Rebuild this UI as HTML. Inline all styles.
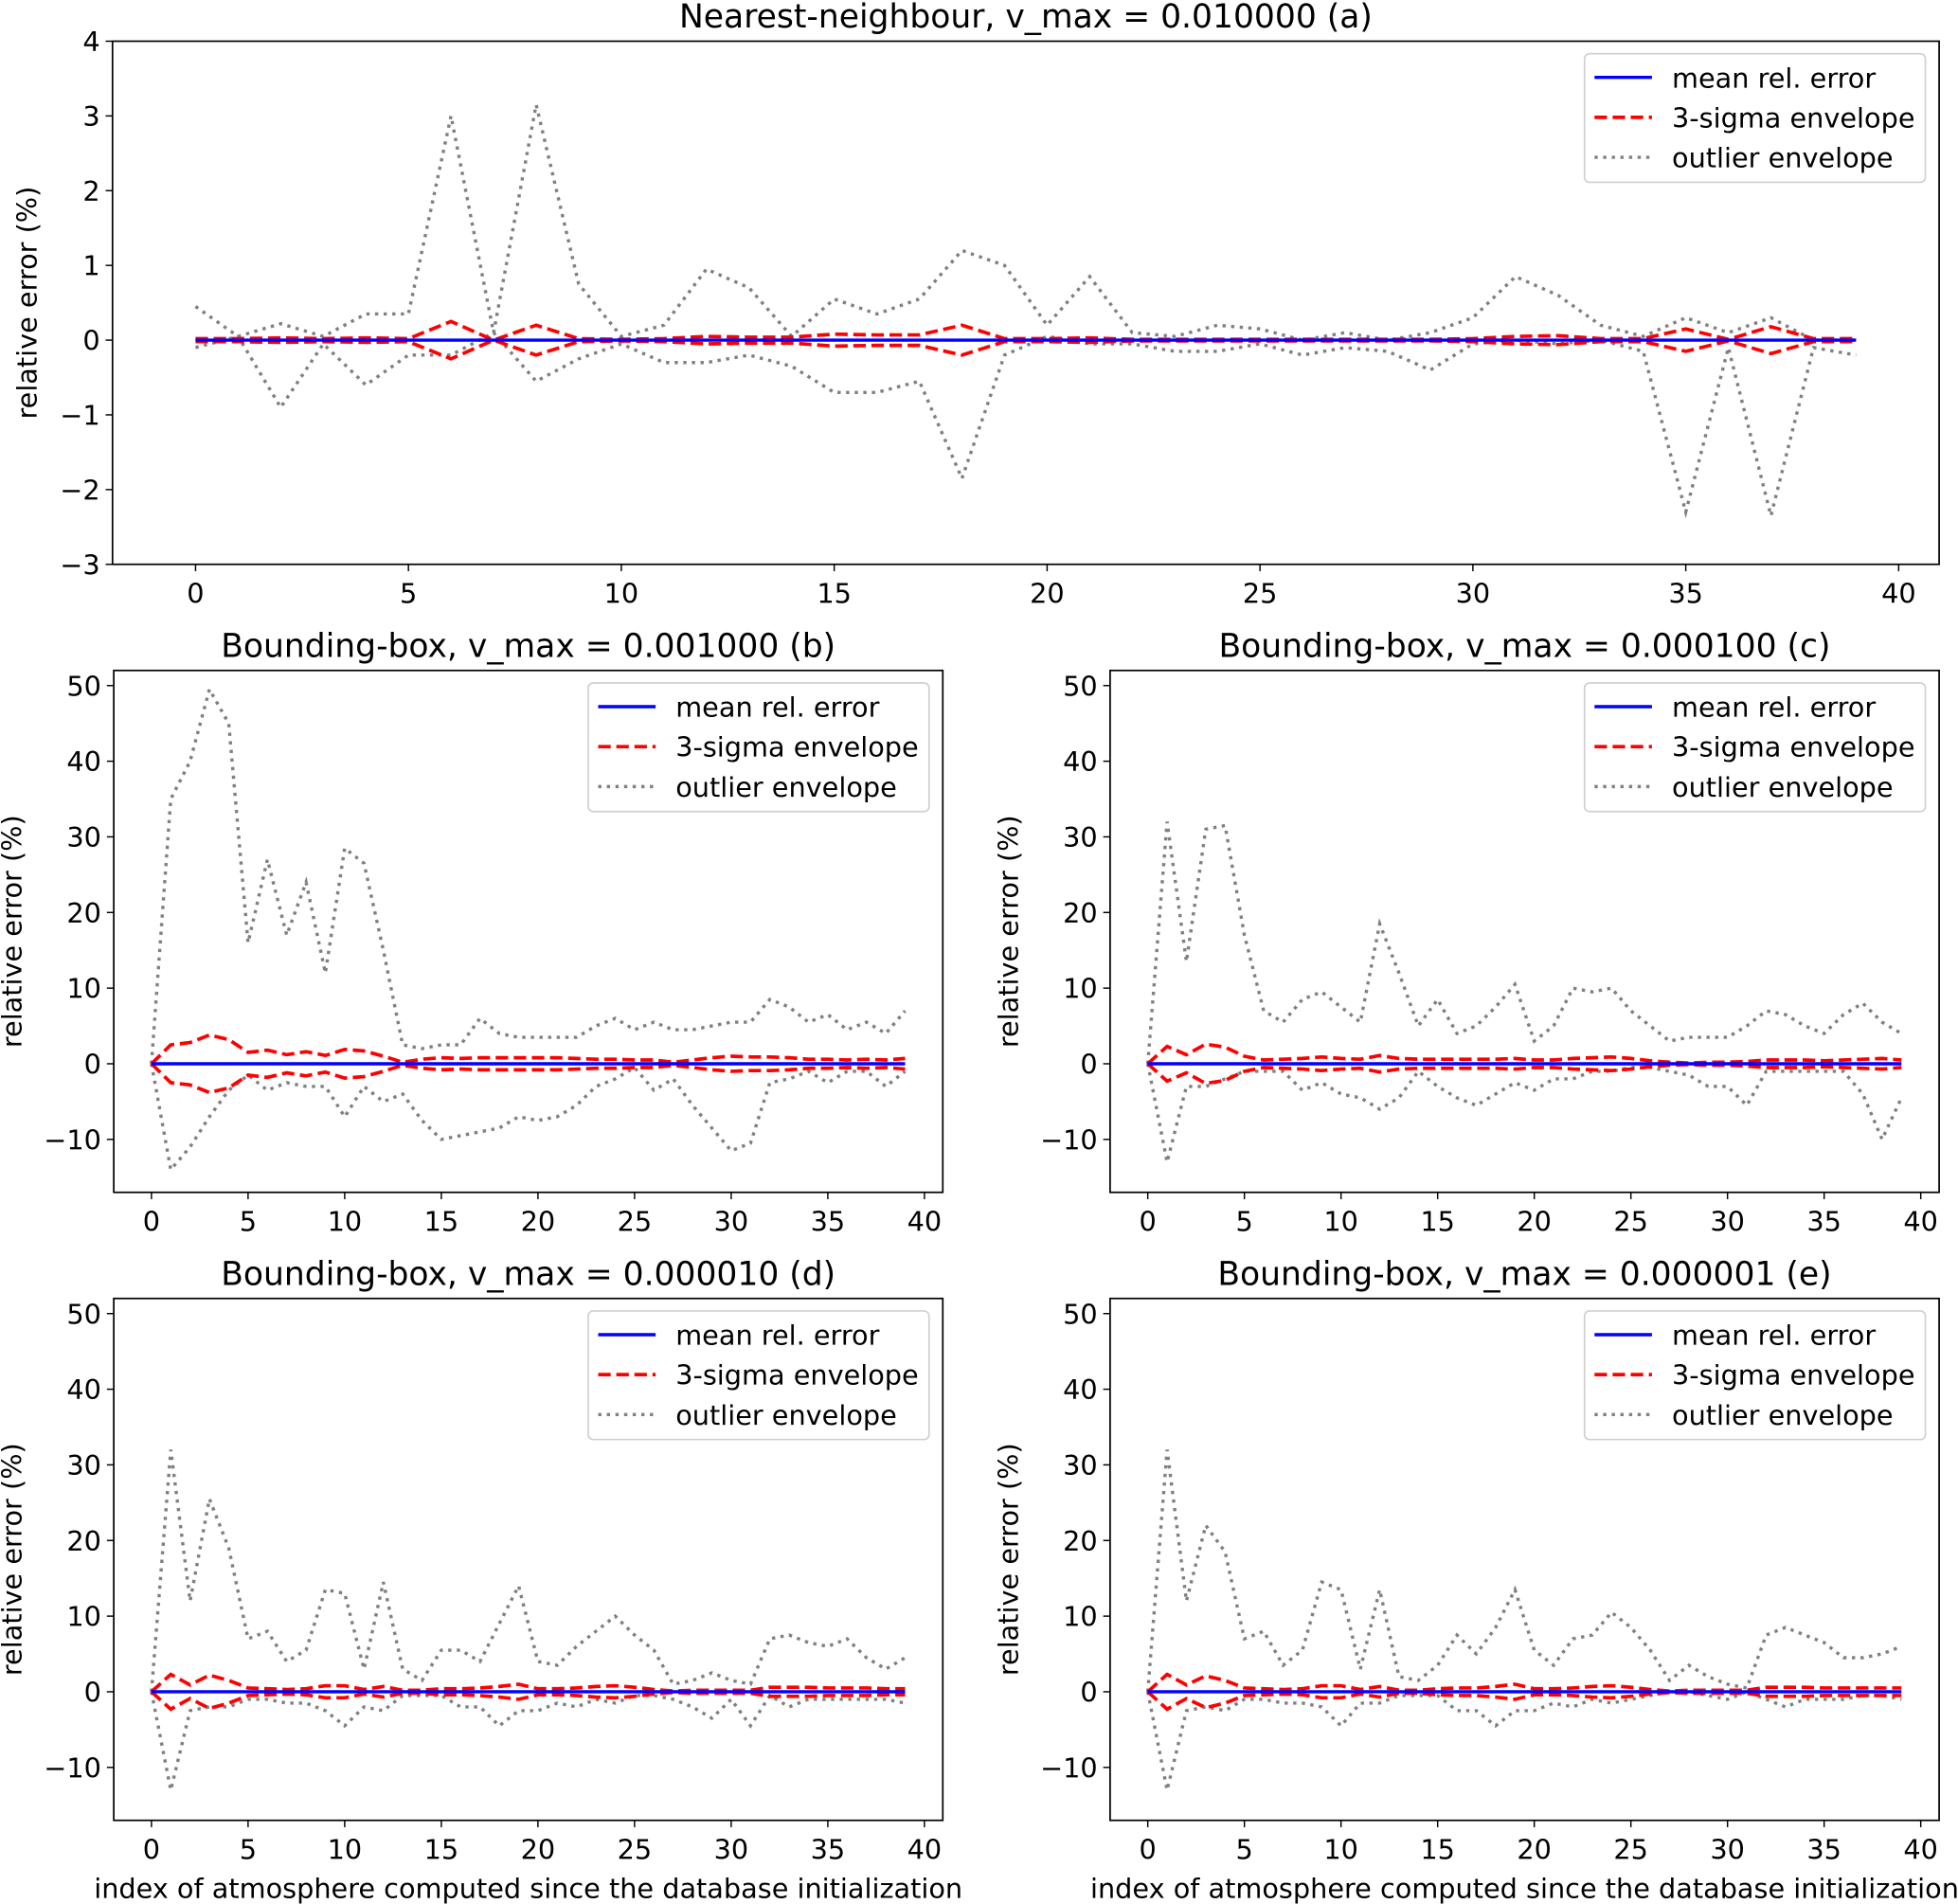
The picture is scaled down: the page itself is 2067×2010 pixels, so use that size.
<!DOCTYPE html>
<html><head><meta charset="utf-8"><style>
html,body{margin:0;padding:0;background:#fff}
svg{display:block}
text{font-family:"DejaVu Sans","Liberation Sans",sans-serif;fill:#000}
</style></head>
<body>
<svg id="fig" xmlns="http://www.w3.org/2000/svg" width="2067" height="2010" viewBox="0 0 1568 1525"></svg>
<script>
const xIndex = Array.from({length:40},(_,i)=>i);
const xTicks = [0,5,10,15,20,25,30,35,40];
const yTicksA = [-3,-2,-1,0,1,2,3,4];
const yTicksB = [-10,0,10,20,30,40,50];

const upA = [0.45,0.05,0.22,0.05,0.35,0.35,3.0,0.1,3.15,0.75,0.05,0.2,0.95,0.7,0.05,0.55,0.35,0.55,1.2,1.0,0.2,0.85,0.1,0.05,0.2,0.15,0.0,0.1,0.0,0.1,0.3,0.85,0.6,0.2,0.05,0.3,0.1,0.3,0.0,0.0];
const loA = [-0.1,0.05,-0.9,-0.05,-0.6,-0.2,-0.2,0.1,-0.55,-0.25,-0.05,-0.3,-0.3,-0.2,-0.35,-0.7,-0.7,-0.55,-1.85,-0.2,0.05,-0.05,-0.05,-0.15,-0.15,-0.05,-0.2,-0.1,-0.15,-0.4,-0.05,0.0,-0.05,0.0,-0.15,-2.3,-0.1,-2.35,-0.1,-0.2];
const sgA = [0.02,0.02,0.03,0.02,0.03,0.02,0.25,0,0.2,0.02,0.01,0.02,0.05,0.04,0.04,0.08,0.07,0.07,0.2,0.02,0.02,0.03,0.01,0.01,0.01,0.01,0.01,0.01,0.01,0.01,0.02,0.05,0.06,0.02,0.02,0.15,0.01,0.18,0.02,0.02];

const upB = [0,35,40,49.5,45,16,27,17,24,12,28.5,26.5,15,2.5,2,2.5,2.5,6,4,3.5,3.5,3.5,3.5,5,6,4.5,5.5,4.5,4.5,5,5.5,5.5,8.5,7.5,5.5,6.5,4.5,5.5,4,7];
const loB = [0,-14,-11,-7,-3.5,-1.5,-3.5,-2.5,-3,-3,-7,-3,-5,-4,-7.5,-10,-9.5,-9,-8.5,-7,-7.5,-7,-5.5,-3,-2,-0.5,-3.5,-2,-5.5,-8.5,-11.5,-10.5,-2.5,-2,-1,-2.5,-1,-1,-3,-1];
const sgB = [0,2.5,2.8,3.8,3.2,1.5,1.8,1.2,1.6,1.1,1.9,1.7,1,0.2,0.6,0.8,0.7,0.8,0.8,0.8,0.8,0.8,0.7,0.6,0.6,0.5,0.5,0.2,0.5,0.8,1,0.9,0.9,0.8,0.6,0.6,0.5,0.6,0.5,0.7];

const upC = [0,32,13.5,31,31.5,17,7,5.5,8.5,9.5,7.5,5.5,18.5,12,5,8.5,4,5,7.5,10.5,3,5,10,9.5,10,7,5,3,3.5,3.5,3.5,5,7,6.5,5,4,6.5,8,5.5,4];
const loC = [0,-13,-3,-3,-2,-1,-1,-1,-3.5,-2.5,-4,-4.5,-6,-4.5,-1,-3,-4.5,-5.5,-4,-2.5,-3.5,-2,-2,-1,-1,-0.5,-0.5,-1,-1.5,-3,-3,-5.5,-1,-1,-1,-1,-1,-4,-10,-4.5];
const sgC = [0,2.3,1.2,2.6,2.2,1,0.5,0.6,0.7,0.9,0.7,0.6,1.1,0.7,0.6,0.6,0.6,0.6,0.6,0.7,0.5,0.5,0.7,0.8,0.9,0.7,0.4,0.2,0.1,0.2,0.2,0.3,0.5,0.5,0.5,0.4,0.5,0.6,0.7,0.5];

const upD = [0,32,12,25.5,19,7,8,4,5.5,13.5,13,3,14.5,3,1.5,5.5,5.5,4,9,14,4,3.5,6,8,10,7.5,5.5,1,1.5,2.5,1.5,1,7,7.5,6.5,6,7,4.5,3,4.5];
const loD = [0,-13,-2.5,-2,-2,-1,-1,-1.5,-1.5,-2.5,-4.5,-2,-2.5,-0.5,-0.5,-0.5,-2,-2,-4.5,-2.5,-2.5,-1.5,-2,-1,-1.5,-0.5,-0.5,-1,-2,-3.5,-1,-4.5,-0.5,-2,-1,-1,-1,-1,-1,-1.5];
const sgD = [0,2.3,0.9,2.2,1.5,0.5,0.4,0.3,0.4,0.8,0.8,0.3,0.7,0.2,0.2,0.4,0.4,0.5,0.7,1,0.4,0.4,0.5,0.7,0.8,0.6,0.3,0.1,0.2,0.2,0.2,0.2,0.6,0.6,0.6,0.5,0.5,0.5,0.4,0.4];

const upE = [0,32,12,22,18.5,7,8,3.5,5.5,14.5,13.5,3,13.5,2,1.5,3.5,7.5,5,8.5,13.5,5.5,3.5,7,7.5,10.5,8.5,5.5,1.5,3.5,2,1,0.5,7.5,8.5,7.5,6.5,4.5,4.5,5,6];
const loE = [0,-13,-2.5,-2,-2.5,-1,-1,-1.5,-1.5,-2,-4.5,-1.5,-1.5,-0.5,-0.5,-0.5,-2.5,-2.5,-4.5,-2.5,-2.5,-1.5,-2,-1,-1.5,-1,-0.5,0,0,-0.5,-1,0,-1,-2,-1,-1,-1,-0.5,-0.5,-1];
const sgE = [0,2.3,0.9,2.1,1.5,0.5,0.4,0.3,0.4,0.8,0.8,0.3,0.7,0.2,0.2,0.4,0.5,0.5,0.7,1,0.4,0.4,0.5,0.7,0.8,0.6,0.3,0.1,0.2,0.2,0.2,0.2,0.6,0.6,0.6,0.5,0.5,0.5,0.5,0.5];

const NS='http://www.w3.org/2000/svg';
const fig=document.getElementById('fig');
function mk(tag,attrs,parent){const e=document.createElementNS(NS,tag);for(const k in attrs)e.setAttribute(k,attrs[k]);(parent||fig).appendChild(e);return e;}
const FS=21.8, FT=26.2;

const panels=[
 {id:'a',title:'Nearest-neighbour, v_max = 0.010000 (a)',L:90,R:1553,T:33,B:452,ylim:[-3,4],yt:yTicksA,up:upA,lo:loA,sg:sgA,ylx:22,xlabel:false,leg:[1269,43]},
 {id:'b',title:'Bounding-box, v_max = 0.001000 (b)',L:91,R:755,T:537,B:955,ylim:[-17,52],yt:yTicksB,up:upB,lo:loB,sg:sgB,ylx:10,xlabel:false,leg:[471,547]},
 {id:'c',title:'Bounding-box, v_max = 0.000100 (c)',L:889,R:1553,T:537,B:955,ylim:[-17,52],yt:yTicksB,up:upC,lo:loC,sg:sgC,ylx:808,xlabel:false,leg:[1269,547]},
 {id:'d',title:'Bounding-box, v_max = 0.000010 (d)',L:91,R:755,T:1040,B:1458,ylim:[-17,52],yt:yTicksB,up:upD,lo:loD,sg:sgD,ylx:10,xlabel:true,leg:[471,1050]},
 {id:'e',title:'Bounding-box, v_max = 0.000001 (e)',L:889,R:1553,T:1040,B:1458,ylim:[-17,52],yt:yTicksB,up:upE,lo:loE,sg:sgE,ylx:808,xlabel:true,leg:[1269,1050]}
];

panels.forEach(p=>{
  const g=mk('g',{});
  
  
  const xmin=-1.95,xmax=40.95;
  const xs=v=>p.L+(v-xmin)/(xmax-xmin)*(p.R-p.L);
  const ys=v=>p.B-(v-p.ylim[0])/(p.ylim[1]-p.ylim[0])*(p.B-p.T);
  const cid='clip'+p.id;
  const cp=mk('clipPath',{id:cid},g);mk('rect',{x:p.L,y:p.T,width:p.R-p.L,height:p.B-p.T},cp);
  const plot=mk('g',{'clip-path':'url(#'+cid+')'},g);
  const path=arr=>arr.map((v,i)=>(i?'L':'M')+xs(xIndex[i]).toFixed(2)+' '+ys(v).toFixed(2)).join(' ');
  let e;
  e=mk('path',{d:path(p.up),fill:'none',stroke:'#808080','stroke-width':2.6,'stroke-dasharray':'2.6 4.3'},plot);
  
  
  e=mk('path',{d:path(p.lo),fill:'none',stroke:'#808080','stroke-width':2.6,'stroke-dasharray':'2.6 4.3'},plot);
  
  
  e=mk('path',{d:path(p.sg),fill:'none',stroke:'#ff0000','stroke-width':2.8,'stroke-dasharray':'10 4.5'},plot);
  
  
  e=mk('path',{d:path(p.sg.map(v=>-v)),fill:'none',stroke:'#ff0000','stroke-width':2.8,'stroke-dasharray':'10 4.5'},plot);
  
  
  e=mk('path',{d:path(xIndex.map(()=>0)),fill:'none',stroke:'#0000ff','stroke-width':2.6},plot);
  
  
  e=mk('rect',{x:p.L,y:p.T,width:p.R-p.L,height:p.B-p.T,fill:'none',stroke:'#000','stroke-width':1.3},g);
  
  
  xTicks.forEach(t=>{
    const x=xs(t);
    mk('line',{x1:x,x2:x,y1:p.B,y2:p.B+5.5,stroke:'#000','stroke-width':1.1},g);
    const tx=mk('text',{x:x,y:p.B+31,'text-anchor':'middle','font-size':FS},g);
    tx.textContent=String(t);
    
    
  });
  p.yt.forEach(t=>{
    const y=ys(t);
    mk('line',{x1:p.L-5.5,x2:p.L,y1:y,y2:y,stroke:'#000','stroke-width':1.1},g);
    const tx=mk('text',{x:p.L-10,y:y+8,'text-anchor':'end','font-size':FS},g);
    tx.textContent=(t<0?'\u2212'+(-t):String(t));
    
    
  });
  e=mk('text',{x:(p.L+p.R)/2,y:p.T-11,'text-anchor':'middle','font-size':FT},g);
  e.textContent=p.title;
  
  
  const yc=(p.T+p.B)/2;
  e=mk('text',{x:p.ylx+7,y:yc,'text-anchor':'middle','font-size':FS,transform:'rotate(-90 '+(p.ylx+7)+' '+yc+')'},g);
  e.textContent='relative error (%)';
  
  
  if(p.xlabel){
    e=mk('text',{x:(p.L+p.R)/2,y:p.B+62,'text-anchor':'middle','font-size':FS},g);
    e.textContent='index of atmosphere computed since the database initialization';
    
    
  }
  const [lx,ly]=p.leg;
  const lg=mk('g',{},g);
  
  
  mk('rect',{x:lx,y:ly,width:273,height:103,rx:4,fill:'#fff','fill-opacity':0.8,stroke:'#d0d0d0','stroke-width':1.3},lg);
  const items=[['mean rel. error','#0000ff',2.6,null,'legend-entry-mean'],['3-sigma envelope','#ff0000',2.8,'10 4.5','legend-entry-sigma'],['outlier envelope','#808080',2.6,'2.6 4.3','legend-entry-outlier']];
  items.forEach((it,k)=>{
    const yy=ly+19+k*32;
    const ln=mk('line',{x1:lx+8,x2:lx+54,y1:yy,y2:yy,stroke:it[1],'stroke-width':it[2]},lg);
    if(it[3])ln.setAttribute('stroke-dasharray',it[3]);
    const tx=mk('text',{x:lx+70,y:yy+8,'font-size':FS},lg);
    tx.textContent=it[0];
    
    
  });
});
</script>
</body></html>
